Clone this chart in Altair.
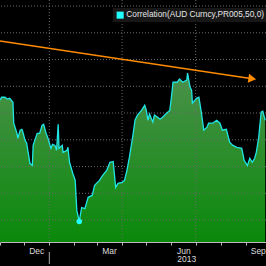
import altair as alt
import pandas as pd

FONT = "Liberation Sans, Arial, sans-serif"

dates = [
    "2012-11-01", "2012-11-03", "2012-11-07", "2012-11-10", "2012-11-13", "2012-11-17",
    "2012-11-18", "2012-11-22", "2012-11-23", "2012-11-26", "2012-11-28", "2012-11-29",
    "2012-12-02", "2012-12-04", "2012-12-08", "2012-12-11", "2012-12-12", "2012-12-17",
    "2012-12-20", "2012-12-23", "2012-12-25", "2012-12-28", "2012-12-30", "2013-01-03",
    "2013-01-05", "2013-01-08", "2013-01-10", "2013-01-12", "2013-01-13", "2013-01-17",
    "2013-01-18", "2013-01-23", "2013-01-24", "2013-01-26", "2013-01-30", "2013-02-02",
    "2013-02-04", "2013-02-07", "2013-02-10", "2013-02-14", "2013-02-18", "2013-02-23",
    "2013-02-26", "2013-03-04", "2013-03-08", "2013-03-13", "2013-03-17", "2013-03-21",
    "2013-03-23", "2013-03-24", "2013-03-27", "2013-04-01", "2013-04-04", "2013-04-07",
    "2013-04-10", "2013-04-14", "2013-04-17", "2013-04-20", "2013-04-25", "2013-04-29",
    "2013-05-01", "2013-05-03", "2013-05-05", "2013-05-09", "2013-05-11", "2013-05-15",
    "2013-05-18", "2013-05-21", "2013-05-26", "2013-05-30", "2013-06-01", "2013-06-03",
    "2013-06-08", "2013-06-11", "2013-06-15", "2013-06-20", "2013-06-21", "2013-06-24",
    "2013-06-26", "2013-06-27", "2013-07-02", "2013-07-05", "2013-07-08", "2013-07-11",
    "2013-07-15", "2013-07-17", "2013-07-22", "2013-07-27", "2013-07-31", "2013-08-03",
    "2013-08-08", "2013-08-12", "2013-08-16", "2013-08-21", "2013-08-27", "2013-08-30",
    "2013-09-03", "2013-09-06", "2013-09-09", "2013-09-12", "2013-09-14", "2013-09-17",
    "2013-09-20", "2013-09-22", "2013-09-25",
]
values = [
    0.048, 0.059, 0.059, 0.052, 0.055, 0.040,
    -0.038, -0.076, -0.094, -0.064, -0.061, -0.068,
    -0.102, -0.113, -0.188, -0.196, -0.121, -0.076,
    -0.076, -0.046, -0.042, -0.076, -0.091, -0.132,
    -0.117, -0.121, -0.139, -0.042, -0.132, -0.121,
    -0.147, -0.139, -0.128, -0.184, -0.225, -0.252,
    -0.364, -0.405, -0.353, -0.357, -0.315, -0.308,
    -0.270, -0.252, -0.233, -0.214, -0.184, -0.181,
    -0.244, -0.278, -0.263, -0.259, -0.252, -0.214,
    -0.166, -0.091, -0.027, -0.008, 0.010, 0.029,
    0.010, -0.027, -0.004, -0.034, -0.008, -0.016,
    -0.023, -0.016, -0.001, 0.010, 0.059, 0.115,
    0.115, 0.127, 0.115, 0.123, 0.149, 0.097,
    0.085, 0.037, 0.055, 0.059, 0.003, -0.064,
    -0.053, -0.038, -0.038, -0.027, -0.038, -0.064,
    -0.061, -0.109, -0.121, -0.128, -0.132, -0.177,
    -0.196, -0.169, -0.184, -0.169, -0.147, -0.091,
    0.003, 0.007, -0.027,
]

series_name = "Correlation(AUD Curncy,PR005,50,0) (-0.027)"

trend_dates = ["2012-11-01", "2013-09-09"]
trend_values = [0.269, 0.128]

grid_y = [-0.4, -0.3, -0.2, -0.1, 0.0, 0.1, 0.2, 0.3, 0.4]
grid_x = ["2013-01-01", "2013-04-01", "2013-07-01", "2013-10-01"]
month_ticks = [
    "2012-11-01", "2012-12-01", "2013-01-01", "2013-02-01", "2013-03-01", "2013-04-01",
    "2013-05-01", "2013-06-01", "2013-07-01", "2013-08-01", "2013-09-01",
]
year_label = ["2013"]
year_label_date = ["2013-06-20"]
year_start = ["2013-01-01"]

X_DOMAIN = ["2012-11-01", "2013-09-26"]
Y_DOMAIN = [-0.482, 0.4225]

df = pd.DataFrame({"date": dates, "value": values})
df_min = df.loc[[df["value"].idxmin()]].assign(series=series_name)
df_trend = pd.DataFrame({"date": trend_dates, "value": trend_values})
df_arrow = df_trend.iloc[[-1]]
df_gy = pd.DataFrame({"value": grid_y})
df_gx = pd.DataFrame({"date": grid_x})
df_year = pd.DataFrame({"date": year_label_date, "label": year_label})
df_ystart = pd.DataFrame({"date": year_start})

xscale = alt.Scale(type="utc", domain=X_DOMAIN)
yscale = alt.Scale(domain=Y_DOMAIN, nice=False, zero=False)

x_axis = alt.Axis(
    values=month_ticks,
    labelExpr="indexof([11, 2, 5, 8], utcmonth(datum.value)) >= 0 ? utcFormat(datum.value, '%b') : ''",
    grid=False, title=None, tickSize=3, tickColor="#bbbbbb", domainColor="#bbbbbb",
    labelColor="#dddddd", labelFontSize=8.5, labelFont=FONT, labelOffset=12,
    labelPadding=1, labelAngle=0, labelFlush=False, labelOverlap=False,
)
x_enc = alt.X("date:T", scale=xscale, axis=x_axis)
y_enc = alt.Y("value:Q", scale=yscale, axis=None)

area = alt.Chart(df).mark_area(
    color=alt.Gradient(
        gradient="linear",
        stops=[alt.GradientStop(color="#4a914a", offset=0),
               alt.GradientStop(color="#0a890a", offset=1)],
        x1=1, x2=1, y1=0, y2=1,
    ),
    opacity=1,
).encode(x=x_enc, y=y_enc, y2=alt.datum(Y_DOMAIN[0]))

hgrid = alt.Chart(df_gy).mark_rule(color="#6a6a6a", strokeDash=[1, 2], strokeWidth=1).encode(y=y_enc)
vgrid = alt.Chart(df_gx).mark_rule(color="#6a6a6a", strokeDash=[1, 2], strokeWidth=1).encode(x=x_enc)

line = alt.Chart(df).mark_line(color="#20e6e6", strokeWidth=1.3).encode(x=x_enc, y=y_enc)

minpt = alt.Chart(df_min).mark_circle(size=30, opacity=1).encode(
    x=x_enc, y=y_enc,
    color=alt.Color(
        "series:N",
        scale=alt.Scale(domain=[series_name], range=["#22ffff"]),
        legend=alt.Legend(
            orient="none", legendX=113, legendY=8, title=None,
            symbolType="square", symbolSize=50, symbolStrokeWidth=0, symbolOpacity=1,
            fillColor="#171717", padding=3, labelColor="#e6e6e6", labelFontSize=8.3,
            labelFont=FONT, labelLimit=1000, labelOffset=2,
        ),
    ),
)

trend = alt.Chart(df_trend).mark_line(color="#ff8c00", strokeWidth=1.5).encode(x=x_enc, y=y_enc)
arrow = alt.Chart(df_arrow).mark_point(
    shape="triangle-right", filled=True, size=80, angle=8.5, color="#ff8c00", opacity=1
).encode(x=x_enc, y=y_enc)

year_text = alt.Chart(df_year).mark_text(
    color="#dddddd", fontSize=8.5, font=FONT, baseline="middle", align="center"
).encode(x=x_enc, y=alt.value(259), text="label:N")

year_sep = alt.Chart(df_ystart).mark_rule(color="#aaaaaa", strokeWidth=1).encode(
    x=x_enc, y=alt.value(252), y2=alt.value(264)
)

chart = alt.layer(
    area, hgrid, vgrid, line, minpt, trend, arrow, year_text, year_sep
).properties(
    width=266, height=242,
    padding={"left": 0, "top": 0, "right": 0, "bottom": 24},
    autosize="none",
    background="black",
).configure_view(stroke=None)

chart.save("out.html", embed_options={"renderer": "svg", "actions": False})
